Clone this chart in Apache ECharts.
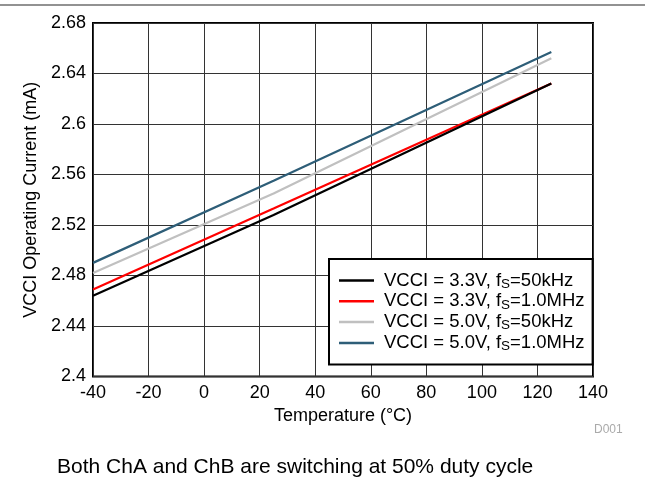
<!DOCTYPE html>
<html>
<head>
<meta charset="utf-8">
<script src="https://cdn.jsdelivr.net/npm/echarts@6/dist/echarts.min.js"></script>
<style>
html,body{margin:0;padding:0;background:#fff;}
#c{width:645px;height:487px;}
</style>
</head>
<body>
<div id="c"></div>
<script>
// ---- data ----
var temps = [-40, 25, 125];
var v33_50k = [2.464, 2.528, 2.632];
var v33_1M  = [2.469, 2.533, 2.632];
var v50_50k = [2.482, 2.545, 2.652];
var v50_1M  = [2.490, 2.555, 2.657];
var seriesNames = ['VCCI = 3.3V, fS=50kHz', 'VCCI = 3.3V, fS=1.0MHz', 'VCCI = 5.0V, fS=50kHz', 'VCCI = 5.0V, fS=1.0MHz'];
var seriesColors = ['#000000', '#ff0000', '#c0c0c0', '#2e5e78'];
var xTicks = {min: -40, max: 140, step: 20};
var yTicks = {min: 2.4, max: 2.68, step: 0.04};
var xTitle = 'Temperature (°C)';
var yTitle = 'VCCI Operating Current (mA)';
var footer = 'Both ChA and ChB are switching at 50% duty cycle';
var docId = 'D001';

var allValues = [v33_50k, v33_1M, v50_50k, v50_1M];
var FONT = '"Liberation Sans", Arial, Helvetica, sans-serif';

function pairs(vals) { return temps.map(function (t, i) { return [t, vals[i]]; }); }

var chart = echarts.init(document.getElementById('c'), null, {renderer: 'canvas'});
var option = {
  animation: false,
  backgroundColor: '#fff',
  textStyle: {fontFamily: FONT},
  grid: {left: 93, right: 52, top: 23, bottom: 110.5, show: true, borderColor: '#000', borderWidth: 2, backgroundColor: 'transparent'},
  xAxis: {
    type: 'value', min: xTicks.min, max: xTicks.max, interval: xTicks.step,
    name: xTitle, nameLocation: 'middle', nameGap: 31,
    nameTextStyle: {fontFamily: FONT, fontSize: 18, color: '#000'},
    axisLine: {show: false}, axisTick: {show: false},
    axisLabel: {fontFamily: FONT, fontSize: 18, color: '#000', margin: 8},
    splitLine: {show: true, lineStyle: {color: '#333', width: 1}}
  },
  yAxis: {
    type: 'value', min: yTicks.min, max: yTicks.max, interval: yTicks.step,
    name: yTitle, nameLocation: 'middle', nameGap: 52, nameRotate: 90,
    nameTextStyle: {fontFamily: FONT, fontSize: 18, color: '#000'},
    axisLine: {show: false}, axisTick: {show: false},
    axisLabel: {fontFamily: FONT, fontSize: 18, color: '#000', margin: 7,
      formatter: function (v) { return String(parseFloat(v.toFixed(2))); }},
    splitLine: {show: true, lineStyle: {color: '#333', width: 1}}
  },
  legend: {
    orient: 'vertical', left: 329, top: 259,
    backgroundColor: '#fff', borderColor: '#000', borderWidth: 2, borderRadius: 0,
    padding: [12, 8, 11, 10], itemGap: 0.8, itemWidth: 35, itemHeight: 14,
    icon: 'path://M0,6 L35,6 L35,8.5 L0,8.5 Z',
    data: seriesNames,
    formatter: function (name) {
      var parts = name.split('fS');
      return '{a|' + parts[0] + 'f}{s|S}{a|' + parts[1] + '}';
    },
    textStyle: {
      fontFamily: FONT, fontSize: 18.5, color: '#000', padding: [0, 0, 0, 5],
      rich: {
        a: {fontFamily: FONT, fontSize: 18.5, color: '#000', lineHeight: 21},
        s: {fontFamily: FONT, fontSize: 13.5, color: '#000', lineHeight: 13, verticalAlign: 'bottom'}
      }
    }
  },
  series: allValues.map(function (vals, i) {
    return {
      name: seriesNames[i], type: 'line', data: pairs(vals),
      showSymbol: false, symbol: 'none',
      itemStyle: {color: seriesColors[i]},
      lineStyle: {color: seriesColors[i], width: 2.2},
      z: 3 + (allValues.length - i)
    };
  }),
  graphic: [
    {type: 'line', shape: {x1: 0, y1: 5, x2: 645, y2: 5}, style: {stroke: '#6e6e6e', lineWidth: 1.5}},
    {type: 'text', left: 594, top: 424, style: {text: docId, font: '12px ' + FONT, fill: '#aaaaaa'}},
    {type: 'text', left: 57, top: 457, style: {text: footer, font: '21px ' + FONT, fill: '#000'}}
  ]
};
chart.setOption(option);
</script>
</body>
</html>
